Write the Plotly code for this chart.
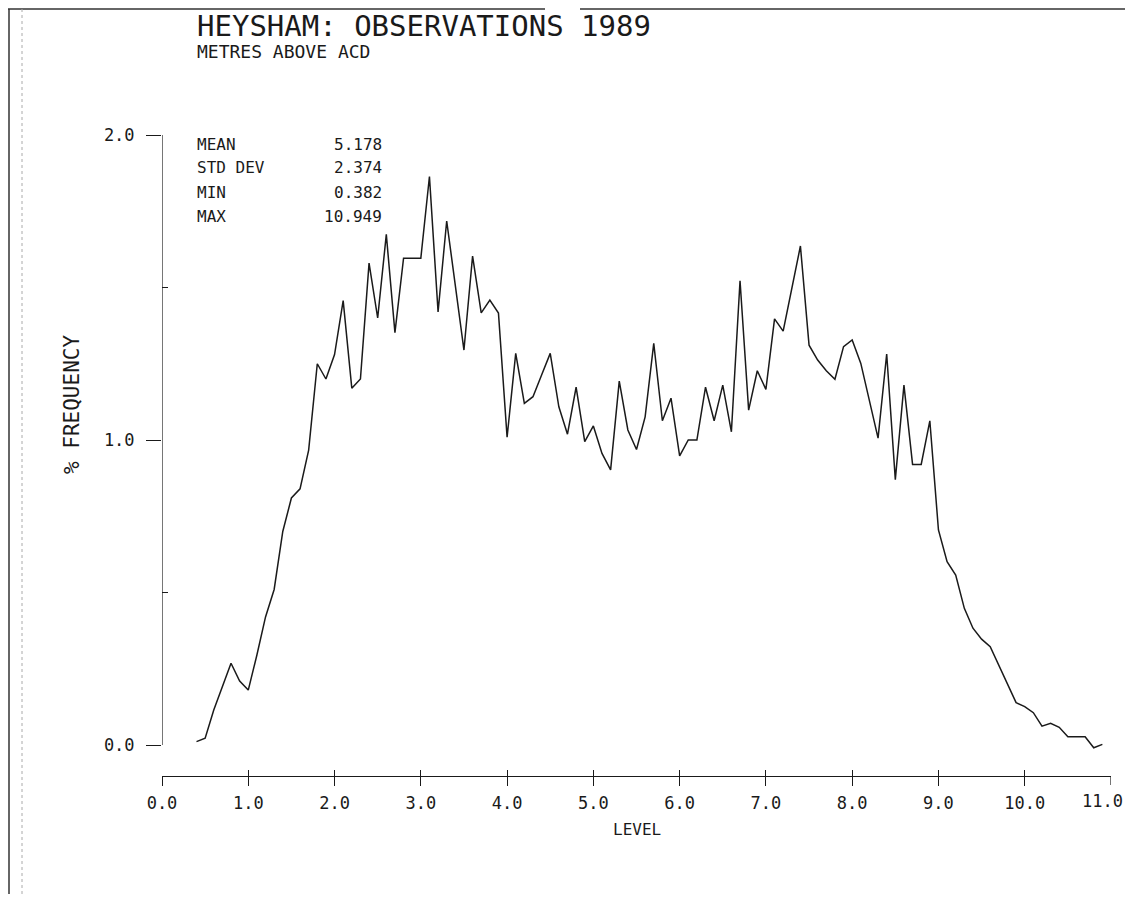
import plotly.graph_objects as go

# ---------------- data ----------------
LEVEL = [0.4, 0.5, 0.6, 0.7, 0.8, 0.9, 1.0, 1.1, 1.2, 1.3, 1.4, 1.5, 1.6, 1.7, 1.8, 1.9,
         2.0, 2.1, 2.2, 2.3, 2.4, 2.5, 2.6, 2.7, 2.8, 2.9, 3.0, 3.1, 3.2, 3.3, 3.4, 3.5,
         3.6, 3.7, 3.8, 3.9, 4.0, 4.1, 4.2, 4.3, 4.4, 4.5, 4.6, 4.7, 4.8, 4.9, 5.0, 5.1,
         5.2, 5.3, 5.4, 5.5, 5.6, 5.7, 5.8, 5.9, 6.0, 6.1, 6.2, 6.3, 6.4, 6.5, 6.6, 6.7,
         6.8, 6.9, 7.0, 7.1, 7.2, 7.3, 7.4, 7.5, 7.6, 7.7, 7.8, 7.9, 8.0, 8.1, 8.2, 8.3,
         8.4, 8.5, 8.6, 8.7, 8.8, 8.9, 9.0, 9.1, 9.2, 9.3, 9.4, 9.5, 9.6, 9.7, 9.8, 9.9,
         10.0, 10.1, 10.2, 10.3, 10.4, 10.5, 10.6, 10.7, 10.8, 10.9]

FREQ = [0.011, 0.022, 0.115, 0.19, 0.268, 0.21, 0.18, 0.295, 0.42, 0.51, 0.70, 0.81, 0.84, 0.967, 1.25, 1.20,
        1.28, 1.457, 1.17, 1.20, 1.58, 1.40, 1.674, 1.352, 1.596, 1.596, 1.596, 1.864, 1.42, 1.718, 1.50, 1.295,
        1.603, 1.417, 1.459, 1.416, 1.009, 1.284, 1.12, 1.142, 1.213, 1.284, 1.109, 1.019, 1.173, 0.995, 1.046, 0.956,
        0.902, 1.193, 1.033, 0.969, 1.076, 1.317, 1.063, 1.137, 0.948, 1.0, 1.0, 1.173, 1.063, 1.18, 1.027, 1.522,
        1.098, 1.227, 1.166, 1.397, 1.357, 1.50, 1.636, 1.311, 1.262, 1.227, 1.199, 1.306, 1.328, 1.251, 1.131, 1.006,
        1.282, 0.87, 1.18, 0.92, 0.92, 1.063, 0.705, 0.601, 0.557, 0.448, 0.383, 0.347, 0.322, 0.259, 0.197, 0.139,
        0.126, 0.106, 0.062, 0.071, 0.058, 0.027, 0.027, 0.027, -0.009, 0.002]

X_TICKS = [0, 1, 2, 3, 4, 5, 6, 7, 8, 9, 10, 11]
X_TICK_TEXT = ["0.0", "1.0", "2.0", "3.0", "4.0", "5.0", "6.0", "7.0", "8.0", "9.0", "10.0", "11.0"]
Y_TICKS = [0, 1, 2]
Y_TICK_TEXT = ["0.0", "1.0", "2.0"]

STAT_NAMES = ["MEAN", "STD DEV", "MIN", "MAX"]
STAT_VALUES = ["5.178", "2.374", "0.382", "10.949"]

TITLE = "HEYSHAM: OBSERVATIONS 1989"
SUBTITLE = "METRES ABOVE ACD"

# ---------------- figure ----------------
FONT = "DejaVu Sans Mono"
INK = "#1a1a1a"

# page body has an 8px margin; work in screen pixels and convert
OFF = 8
W, H = 1133 - 2 * OFF, 902 - 2 * OFF
PLOT_L, PLOT_R, PLOT_T, PLOT_B = 162, 1111, 135, 776   # screen px of the plot area
L = PLOT_L - OFF
R = W - (PLOT_R - OFF)
T = PLOT_T - OFF
B = H - (PLOT_B - OFF)
pw = W - L - R
ph = H - T - B

fig = go.Figure()
fig.add_trace(go.Scatter(x=LEVEL, y=FREQ, mode="lines",
                         line=dict(color=INK, width=1.5), showlegend=False, hoverinfo="skip"))
# invisible trace to anchor second x-axis (inside ticks)
fig.add_trace(go.Scatter(x=[X_TICKS[0], X_TICKS[-1]], y=[None, None], xaxis="x2",
                         showlegend=False, hoverinfo="skip"))

y_top = 2.0
y_bot = -0.1016

fig.update_layout(
    width=W, height=H,
    margin=dict(l=L, r=R, t=T, b=B, pad=0),
    paper_bgcolor="white", plot_bgcolor="white",
    font=dict(family=FONT, color=INK),
    xaxis=dict(range=[0, 11], tickvals=X_TICKS[:-1], ticktext=X_TICK_TEXT[:-1],
               showgrid=False, zeroline=False, showline=True, linecolor=INK, linewidth=1.2,
               ticks="outside", ticklen=9, tickwidth=1.2, tickcolor=INK,
               tickfont=dict(size=17, family=FONT, color=INK), ticklabelstandoff=2),
    xaxis2=dict(range=[0, 11], overlaying="x", anchor="y", side="bottom",
                tickvals=X_TICKS, showticklabels=False, showgrid=False, zeroline=False,
                showline=False, ticks="inside", ticklen=6, tickwidth=1.2, tickcolor=INK),
    yaxis=dict(range=[y_bot, y_top], tickvals=Y_TICKS, ticktext=Y_TICK_TEXT,
               showgrid=False, zeroline=False, showline=False,
               ticks="outside", ticklen=15, tickwidth=1.2, tickcolor=INK,
               tickfont=dict(size=17, family=FONT, color=INK), ticklabelstandoff=8,
               minor=dict(tickvals=[0.5, 1.5], ticks="inside", ticklen=6, tickwidth=1.2, tickcolor=INK)),
)

# last x tick (outside tick) drawn like the others; its label sits at the page edge
fig.add_shape(type="line", xref="x", yref="paper", x0=X_TICKS[-1], x1=X_TICKS[-1],
              y0=0, y1=-9 / ph, line=dict(color=INK, width=1.2))

# y-axis spine only from 0 to 2
fig.add_shape(type="line", xref="x", yref="y", x0=0, x1=0, y0=Y_TICKS[0], y1=Y_TICKS[-1],
              line=dict(color=INK, width=1.2))


def px_x(p):
    return (p - OFF - L) / pw


def px_y(p):
    return (H - B - (p - OFF)) / ph


anns = []
anns.append(dict(text=X_TICK_TEXT[-1], x=px_x(1125), y=px_y(801), xref="paper", yref="paper",
                 xanchor="right", yanchor="middle", showarrow=False,
                 font=dict(size=17, family=FONT, color=INK)))
anns.append(dict(text=TITLE, x=px_x(196), y=px_y(26), xref="paper", yref="paper",
                 xanchor="left", yanchor="middle", showarrow=False, borderpad=0,
                 font=dict(size=29, family=FONT, color=INK)))
anns.append(dict(text=SUBTITLE, x=px_x(196), y=px_y(52), xref="paper", yref="paper",
                 xanchor="left", yanchor="middle", showarrow=False, borderpad=0,
                 font=dict(size=18, family=FONT, color=INK)))
rows_y = [144, 168, 192, 216]
for name, val, yy in zip(STAT_NAMES, STAT_VALUES, rows_y):
    anns.append(dict(text=name, x=px_x(195), y=px_y(yy), xref="paper", yref="paper",
                     xanchor="left", yanchor="middle", showarrow=False,
                     font=dict(size=16, family=FONT, color=INK)))
    anns.append(dict(text=val, x=px_x(384), y=px_y(yy), xref="paper", yref="paper",
                     xanchor="right", yanchor="middle", showarrow=False,
                     font=dict(size=16, family=FONT, color=INK)))
anns.append(dict(text="% FREQUENCY", x=px_x(72), y=px_y(405), xref="paper", yref="paper",
                 xanchor="center", yanchor="middle", textangle=-90, showarrow=False,
                 font=dict(size=21, family=FONT, color=INK)))
anns.append(dict(text="LEVEL", x=px_x(637), y=px_y(830), xref="paper", yref="paper",
                 xanchor="center", yanchor="middle", showarrow=False,
                 font=dict(size=16, family=FONT, color=INK)))
fig.update_layout(annotations=anns)

# scan border artefacts (page edges)
fig.add_shape(type="line", xref="paper", yref="paper", x0=px_x(8), x1=px_x(545), y0=px_y(9), y1=px_y(9),
              line=dict(color="#333", width=1.5))
fig.add_shape(type="line", xref="paper", yref="paper", x0=px_x(580), x1=px_x(1125), y0=px_y(9), y1=px_y(9),
              line=dict(color="#333", width=1.5))
fig.add_shape(type="line", xref="paper", yref="paper", x0=px_x(9), x1=px_x(9), y0=px_y(9), y1=px_y(894),
              line=dict(color="#333", width=1.5))
fig.add_shape(type="line", xref="paper", yref="paper", x0=px_x(22), x1=px_x(22), y0=px_y(9), y1=px_y(894),
              line=dict(color="#aaa", width=1, dash="dot"))

fig.write_html("out.html")
